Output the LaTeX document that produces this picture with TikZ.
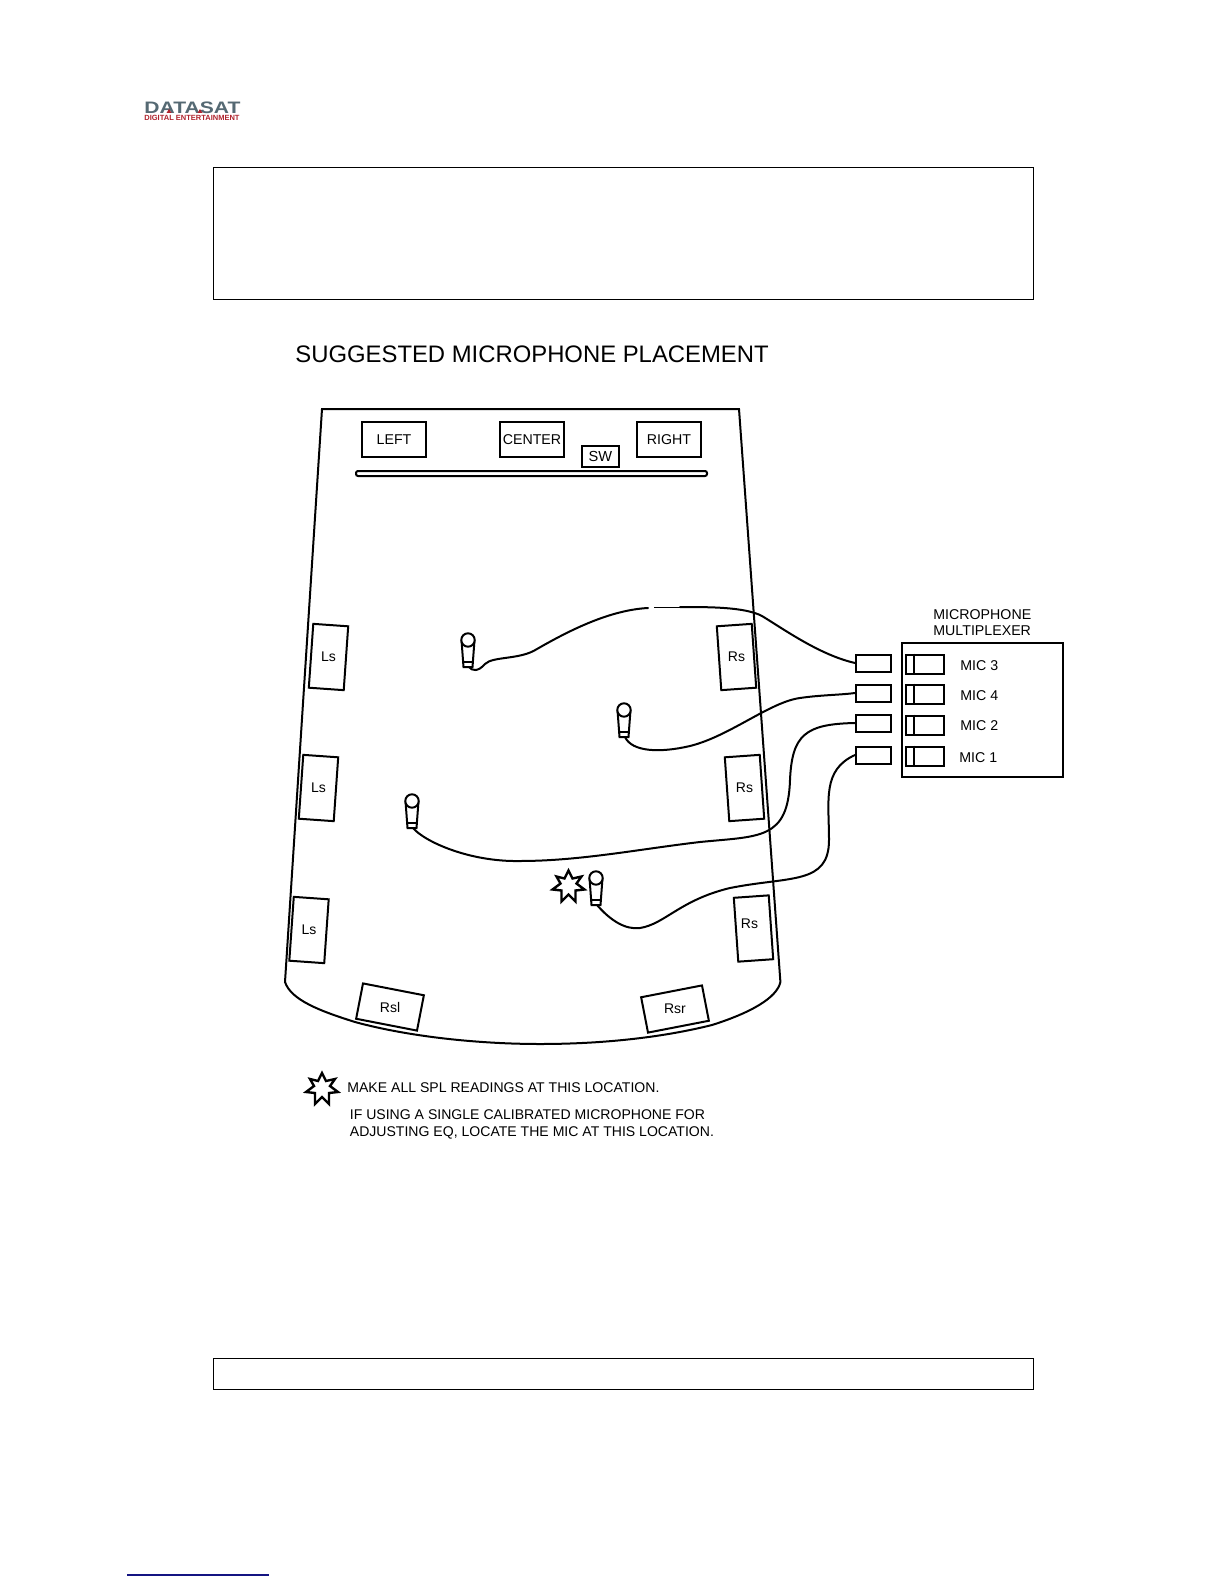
\documentclass[tikz,border=0pt]{standalone}
\usepackage{fontspec}
\usetikzlibrary{calc}
\setmainfont{Liberation Sans}
\definecolor{logogray}{RGB}{85,105,115}
\definecolor{logored}{RGB}{175,35,45}
\begin{document}
\begin{tikzpicture}[x=0.5pt,y=-0.5pt,
  thinbox/.style={draw=black,line width=0.5pt},
  spk/.style={draw=black,line width=1.1pt,minimum width=32pt,minimum height=17.5pt,inner sep=0pt,font=\fontsize{7.1}{9}\selectfont},
  sidespk/.style={draw=black,line width=1pt,minimum width=17.5pt,minimum height=32pt,inner sep=0pt,font=\fontsize{7}{9}\selectfont},
  rearspk/.style={draw=black,line width=1pt,minimum width=31pt,minimum height=18pt,inner sep=0pt,font=\fontsize{7}{9}\selectfont},
  jack/.style={draw=black,line width=1pt,minimum width=17.5pt,minimum height=8.5pt,inner sep=0pt},
  sw/.style={draw=black,line width=1pt,minimum width=19pt,minimum height=9.5pt,inner sep=0pt},
  lbl/.style={inner sep=0pt,font=\fontsize{7.1}{9}\selectfont},
  note/.style={inner sep=0pt,anchor=west,font=\fontsize{7.03}{9}\selectfont},
  cable/.style={draw=black,line width=1pt,line cap=round},
  mic/.pic={
    \draw[black,line width=1pt,fill=white] (-6.5,-11)--(-4.5,16)--(4.5,16)--(6.5,-11);
    \draw[black,line width=1pt] (-5,11)--(5,11);
    \draw[black,line width=1pt,fill=white] (0,-11) circle (6.7);
  },
  burst/.pic={
    \draw[black,line width=1.2pt,fill=white,line join=miter]
      (0,-16)--(4,-8)--(13,-10)--(8,-3)--(16,3)--(7,4)--(7,15)--(0,8)--(-7,15)--(-7,4)--(-16,3)--(-8,-3)--(-12,-10)--(-4,-8)--cycle;
  }]
\useasboundingbox (0,0) rectangle (1224,1584);
\fill[white] (0,0) rectangle (1224,1584);

% logo
\node[inner sep=0pt,anchor=west,text=logogray] (logoa) at (144,107.5) {\scalebox{1.27}[1]{\fontsize{8.3}{9}\selectfont\bfseries DATASAT}};
\node[inner sep=0pt,anchor=west,text=logored] (logob) at (144,118) {\fontsize{3.75}{4}\selectfont\bfseries DIGITAL ENTERTAINMENT};
\fill[logored] (166.5,113)--(169,109)--(171.5,113)--cycle;
\fill[logored] (197.5,113)--(200,109)--(202.5,113)--cycle;

% frames
\draw[thinbox] (213,167) rectangle (1033,299);
\draw[thinbox] (213,1358) rectangle (1033,1389);

\node[inner sep=0pt,anchor=west,font=\fontsize{11.93}{14}\selectfont] (title) at (295,354) {SUGGESTED MICROPHONE PLACEMENT};

% room
\draw[black,line width=1pt] (322,409)--(739,409)--(780.4,982)
  .. controls (777,998) and (750,1013) .. (712,1025)
  .. controls (660,1038) and (600,1044) .. (540,1044)
  .. controls (480,1044) and (410,1037) .. (355,1022)
  .. controls (320,1011) and (291,1000) .. (285,982) -- cycle;

% screen
\draw[black,line width=1pt,rounded corners=1pt] (356,471) rectangle (707,476);

\node[spk] (left) at (394,439.5) {LEFT};
\node[spk] (center) at (532,439.5) {CENTER};
\node[spk] (right) at (669,439.5) {RIGHT};
\node[draw=black,line width=1pt,minimum width=18.5pt,minimum height=10.5pt,inner sep=0pt,font=\fontsize{7.3}{9}\selectfont] (sub) at (600.5,456) {SW};

\node[sidespk,rotate=-4] (ls1) at (328.5,657) {\rotatebox{4}{Ls}};
\node[sidespk,rotate=-4] (ls2) at (318.5,788) {\rotatebox{4}{Ls}};
\node[sidespk,rotate=-4] (ls3) at (309,930) {\rotatebox{4}{Ls}};
\node[sidespk,rotate=4] (rs1) at (736.5,657) {\rotatebox{-4}{Rs}};
\node[sidespk,rotate=4] (rs2) at (744.5,788) {\rotatebox{-4}{Rs}};
\node[sidespk,rotate=4] (rs3) at (753.5,928.5) {};
\node[inner sep=0pt,font=\fontsize{7}{9}\selectfont] (rs3lbl) at (749.5,924) {Rs};
\node[rearspk,rotate=-11] (rsl) at (390,1007) {\rotatebox{11}{Rsl}};
\node[rearspk,rotate=11] (rsr) at (675,1009) {\rotatebox{-11}{Rsr}};

% multiplexer
\node[draw=black,line width=1pt,minimum width=80.5pt,minimum height=67pt,inner sep=0pt] (mux) at (982,710) {};
\node[lbl,align=left,anchor=south west] (muxlbl) at (933,636) {MICROPHONE\\[-1pt]MULTIPLEXER};

\node[jack] (j3) at (873.5,663) {};
\node[jack] (j4) at (873.5,693) {};
\node[jack] (j2) at (873.5,723) {};
\node[jack] (j1) at (873.5,755) {};

\node[sw] (s3) at (925,664) {};
\node[sw] (s4) at (925,694) {};
\node[sw] (s2) at (925,725) {};
\node[sw] (s1) at (925,756) {};
\foreach \n in {s3,s4,s2,s1}{\draw[black,line width=0.8pt] ([xshift=4.5pt]\n.north west)--([xshift=4.5pt]\n.south west);}

\node[lbl,anchor=west] (l3) at (960,665.5) {MIC 3};
\node[lbl,anchor=west] (l4) at (960,695.5) {MIC 4};
\node[lbl,anchor=west] (l2) at (960,725.5) {MIC 2};
\node[lbl,anchor=west] (l1) at (959,757.5) {MIC 1};

% microphones
\coordinate (m3) at (468,651);
\coordinate (m4) at (624,721);
\coordinate (m2) at (412,812);
\coordinate (m1) at (596,889);
\path (m3) pic {mic};
\path (m4) pic {mic};
\path (m2) pic {mic};
\path (m1) pic {mic};
\path (568.5,886.5) pic {burst};

% cables
\draw[cable] ($(m3)+(1,16)$) .. controls (472,671) and (478,672) .. (485,664)
  .. controls (493,656) and (520,660) .. (537,649)
  .. controls (570,630) and (610,610) .. (648,608);
\draw[black,line width=0.5pt] (654,607)--(680,607);
\draw[cable] (680,607) .. controls (710,607) and (745,607) .. (762,616)
  .. controls (785,630) and (820,655) .. (j3.west);
\draw[cable] ($(m4)+(1,16)$) .. controls (632,752) and (660,753) .. (690,746)
  .. controls (730,736) and (770,702) .. (800,698)
  .. controls (820,695) and (840,695) .. (j4.west);
\draw[cable] ($(m2)+(1,16)$) .. controls (425,842) and (470,862) .. (520,861)
  .. controls (580,861) and (640,849) .. (700,842)
  .. controls (760,836) and (788,840) .. (790,780)
  .. controls (792,735) and (805,724) .. (j2.west);
\draw[cable] ($(m1)+(1,16)$) .. controls (610,920) and (625,930) .. (640,928)
  .. controls (665,924) and (680,900) .. (730,888)
  .. controls (790,876) and (829,885) .. (829,840)
  .. controls (829,800) and (822,770) .. (j1.west);

% legend
\path (322,1089) pic {burst};
\node[note] (n1) at (347,1087.5) {MAKE ALL SPL READINGS AT THIS LOCATION.};
\node[note] (n2) at (349.5,1114.5) {IF USING A SINGLE CALIBRATED MICROPHONE FOR};
\node[note] (n3) at (349.5,1133) {ADJUSTING EQ, LOCATE THE MIC AT THIS LOCATION.};

% footer rule
\draw[draw={rgb,255:red,20;green,20;blue,130},line width=0.6pt] (127,1575)--(269,1575);
\end{tikzpicture}
\end{document}
